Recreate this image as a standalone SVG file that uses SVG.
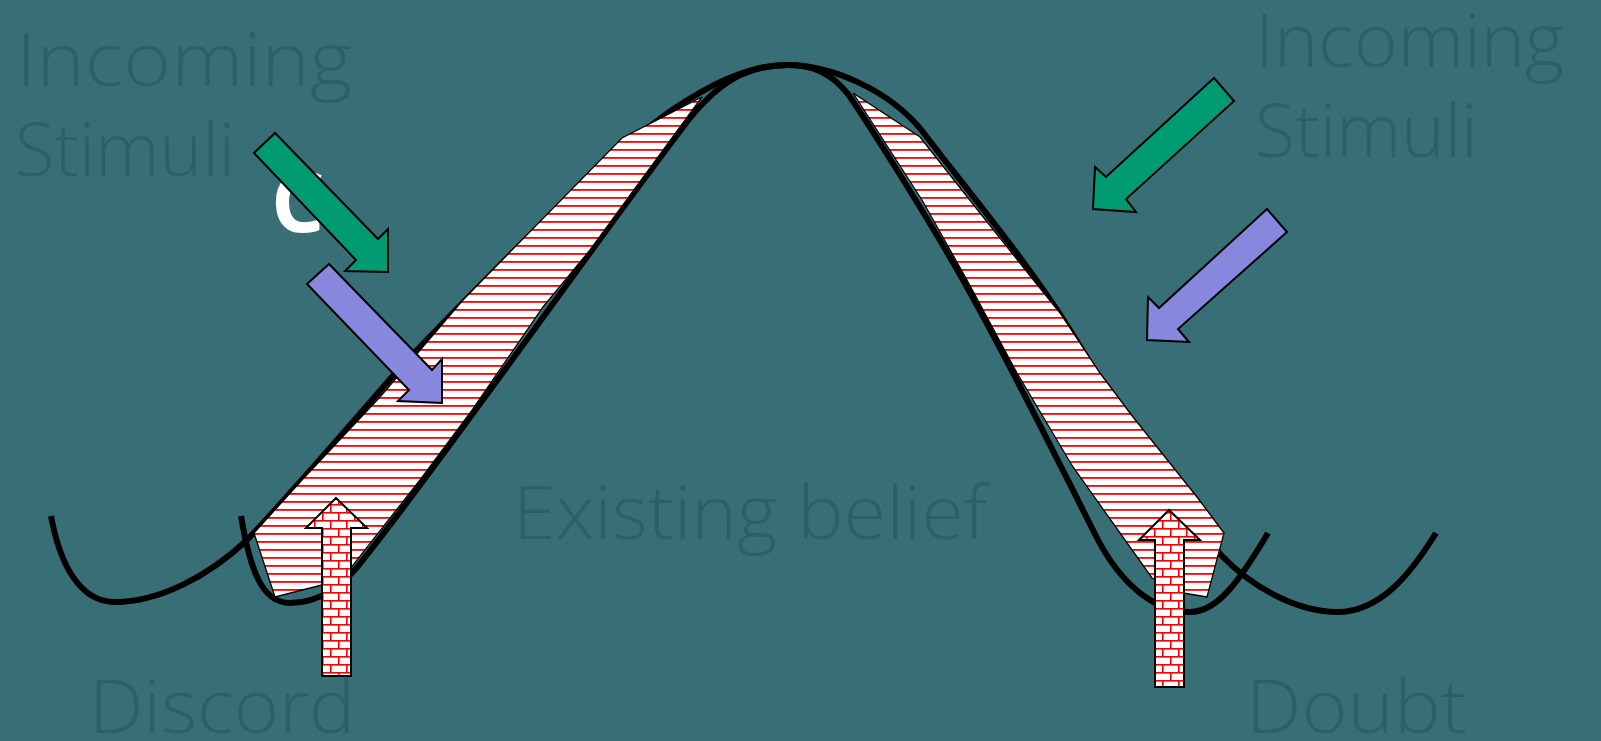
<svg xmlns="http://www.w3.org/2000/svg" width="1601" height="741" viewBox="0 0 1601 741">
<defs>
<style>
.lbl{font-family:"Open Sans","Liberation Sans",sans-serif;font-weight:300;font-size:74px;fill:#2D5F64;}
.curve{fill:none;stroke:#000;stroke-width:6;stroke-linecap:butt;stroke-linejoin:round;}
.band{fill:url(#hatch);stroke:#000;stroke-width:1.3;stroke-linejoin:miter;}
.brick{fill:url(#bricks);stroke:#000;stroke-width:2;}
.green{fill:#009A73;stroke:#000;stroke-width:2;stroke-linejoin:miter;}
.purple{fill:#8787DE;stroke:#000;stroke-width:2;stroke-linejoin:miter;}
</style>
<pattern id="hatch" patternUnits="userSpaceOnUse" x="0" y="0" width="8" height="8">
<rect width="8" height="8" fill="#fff"/>
<rect y="5" width="8" height="1.8" fill="#f00"/>
</pattern>
<pattern id="bricks" patternUnits="userSpaceOnUse" x="0" y="0" width="16" height="16">
<rect width="16" height="16" fill="#fff"/>
<rect y="0" width="16" height="1.6" fill="#f00"/>
<rect y="8" width="16" height="1.6" fill="#f00"/>
<rect x="2" y="0" width="1.6" height="8" fill="#f00"/>
<rect x="10" y="8" width="1.6" height="8" fill="#f00"/>
</pattern>
</defs>
<rect width="1601" height="741" fill="#386F76"/>

<g id="labels">
<text class="lbl" x="16" y="86" textLength="336" lengthAdjust="spacingAndGlyphs">Incoming</text>
<text class="lbl" x="15" y="176" textLength="220" lengthAdjust="spacingAndGlyphs">Stimuli</text>
<text class="lbl" x="1255" y="67" textLength="309" lengthAdjust="spacingAndGlyphs">Incoming</text>
<text class="lbl" x="1255" y="157" textLength="223" lengthAdjust="spacingAndGlyphs">Stimuli</text>
<text class="lbl" x="513" y="539" textLength="474" lengthAdjust="spacingAndGlyphs">Existing belief</text>
<text class="lbl" x="89" y="733" textLength="266" lengthAdjust="spacingAndGlyphs">Discord</text>
<text class="lbl" x="1246" y="733" textLength="221" lengthAdjust="spacingAndGlyphs">Doubt</text>
</g>

<g id="connectors">
<path id="curveA" class="curve" d="M51,516 C60,565 80,602 115,602 C160,602 210,575 247,540 C290,495 350,425 398,370 C455,310 600,160 672,110 C705,88 745,65 787,65 C830,65 889,89 923,132 C955,175 1025,258 1070,330 C1105,386 1165,495 1222,556 C1255,590 1300,612 1337,612 C1380,612 1410,575 1436,533"/>
<path id="curveB" class="curve" d="M241,516 C250,570 262,603 290,603 C320,603 345,585 366,556 C450,450 600,235 690,118 C725,75 755,65 787,65 C812,65 830,72 848,94 C870,126 928,218 963,280 C1012,367 1054,453 1098,540 C1122,585 1155,612 1190,612 C1218,612 1240,580 1268,533"/>
</g>

<g id="band-left">
<polygon class="band" points="702,97 622,138 463,300 380,397 302,480 254,533 275,597 322,585 345,578 353,565 420,480 470,413 543,307 590,250"/>
</g>
<g id="band-right">
<polygon class="band" points="853,93 920,137 980,213 1023,267 1060,313 1100,373 1133,417 1197,497 1224,533 1207,597 1183,593 1168,586 1152,578 1120,533 1073,467 1017,373 967,280 922,200"/>
</g>

<g id="discord-arrow">
<polygon class="brick" points="336,498 367,528 351,528 351,676 322,676 322,528 306,528"/>
</g>
<g id="doubt-arrow">
<polygon class="brick" points="1169,510 1200,540 1184,540 1184,687 1155,687 1155,540 1139,540"/>
</g>

<g id="glyph-c">
<text x="271" y="232" font-family="'Open Sans','Liberation Sans',sans-serif" font-weight="700" font-size="84" fill="#fff">C</text>
</g>

<g id="stimulus-left-green">
<polygon class="green" points="254,153 275,133 378,239 388,229 388,272 345,271 356,260"/>
</g>
<g id="stimulus-left-purple">
<polygon class="purple" points="307,284 329,264 432,370 442,359 442,403 398,401 409,390"/>
</g>
<g id="stimulus-right-green">
<polygon class="green" points="1214,78 1234,101 1126,199 1136,212 1093,209 1095,167 1106,177"/>
</g>
<g id="stimulus-right-purple">
<polygon class="purple" points="1267,209 1287,232 1178,329 1189,342 1147,340 1148,297 1159,308"/>
</g>
</svg>
